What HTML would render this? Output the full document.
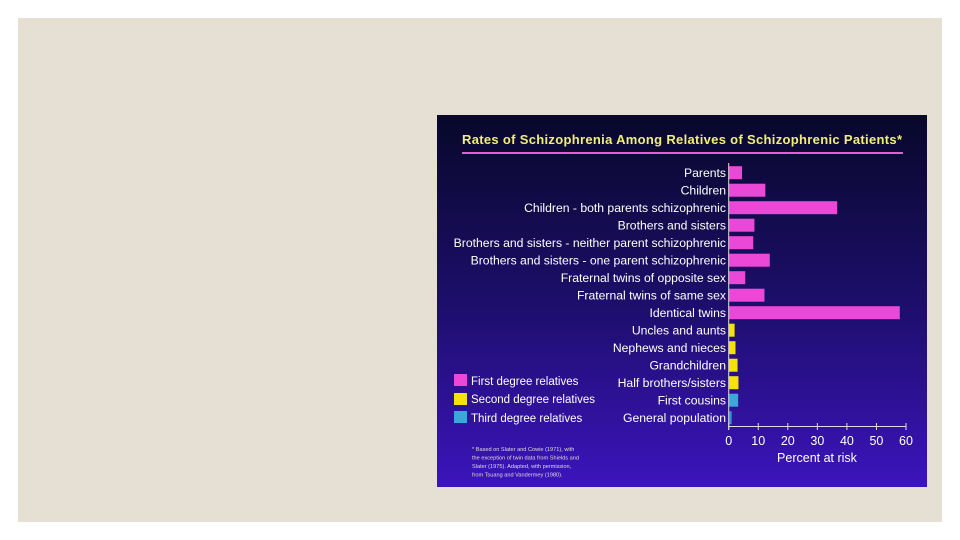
<!DOCTYPE html>
<html><head><meta charset="utf-8"><style>
body{margin:0;width:960px;height:540px;background:#fff;position:relative;overflow:hidden;font-family:"Liberation Sans",sans-serif}
#panel{position:absolute;left:18px;top:18px;width:924px;height:504px;background:#e6dfd4}
#chart{position:absolute;left:437px;top:115px}
</style></head><body>
<div id="panel"></div>
<svg id="chart" width="490" height="372">
<defs><linearGradient id="bg" x1="0" y1="0" x2="0" y2="1"><stop offset="0" stop-color="#08082a"/><stop offset="0.5" stop-color="#1c0e6a"/><stop offset="1" stop-color="#3c14bc"/></linearGradient></defs>
<rect width="490" height="372" fill="url(#bg)"/>
<text x="25" y="29" fill="#f2ee7a" font-size="13" font-weight="bold" textLength="440">Rates of Schizophrenia Among Relatives of Schizophrenic Patients*</text>
<rect x="25" y="37" width="441" height="2" fill="#e060d0"/>
<g id="bars"></g><g id="axis"></g>
<g font-size="11.5" fill="#fff">
<rect x="17" y="259" width="13" height="12" fill="#ec48d8"/>
<text x="34" y="270">First degree relatives</text>
<rect x="17" y="278" width="13" height="12" fill="#f5e20a"/>
<text x="34" y="288">Second degree relatives</text>
<rect x="17" y="296" width="13" height="12" fill="#3aa8d8"/>
<text x="34" y="307">Third degree relatives</text>
</g>
<g font-size="5.6" fill="#ddd">
<text x="35" y="336">* Based on Slater and Cowie (1971), with</text>
<text x="35" y="344.5">the exception of twin data from Shields and</text>
<text x="35" y="353">Slater (1975). Adapted, with permission,</text>
<text x="35" y="361.5">from Tsuang and Vandermey (1980).</text>
</g>
</svg>
<script>
const categories=["Parents","Children","Children - both parents schizophrenic","Brothers and sisters","Brothers and sisters - neither parent schizophrenic","Brothers and sisters - one parent schizophrenic","Fraternal twins of opposite sex","Fraternal twins of same sex","Identical twins","Uncles and aunts","Nephews and nieces","Grandchildren","Half brothers/sisters","First cousins","General population"];
const values=[4.5,12.4,36.7,8.7,8.3,13.9,5.6,12.1,57.9,2.0,2.3,3.0,3.3,3.2,1.0];
const groups=[1,1,1,1,1,1,1,1,1,2,2,2,2,3,3];
const ticks=[0,10,20,30,40,50,60];
const NS="http://www.w3.org/2000/svg";
const colors={1:"#ec48d8",2:"#f5e20a",3:"#3aa8d8"};
const x0=291.7,x60=469;
const xs=v=>x0+(x60-x0)*v/60;
const ys=i=>57.7+i*17.5;
const bars=document.getElementById('bars'),axis=document.getElementById('axis');
function mk(t,a,p){const e=document.createElementNS(NS,t);for(const k in a)e.setAttribute(k,a[k]);p.appendChild(e);return e;}
categories.forEach((c,i)=>{
 const r=mk('rect',{x:x0,y:ys(i)-6.5,width:xs(values[i])-x0,height:13,fill:groups[i]===3&&i===14?"#3a8fd0":colors[groups[i]]},bars);
 
 
 const t=mk('text',{x:289,y:ys(i)+4.5,'text-anchor':'end','font-size':12.2,fill:'#fff'},bars);
 t.textContent=c;
 
 
});
const al=mk('line',{x1:x0,x2:x60,y1:311.5,y2:311.5,stroke:'#ddd','stroke-width':1},axis);


const yl=mk('line',{x1:x0,x2:x0,y1:48,y2:315,stroke:'#ddd','stroke-width':1},axis);


ticks.forEach(t=>{
 const l=mk('line',{x1:xs(t),x2:xs(t),y1:308,y2:315,stroke:'#ddd'},axis);
 
 
 const tx=mk('text',{x:xs(t),y:330,'text-anchor':'middle','font-size':12.5,fill:'#fff'},axis);
 tx.textContent=t;
 
 
});
const tt=mk('text',{x:380,y:347,'text-anchor':'middle','font-size':12.5,fill:'#fff'},axis);
tt.textContent="Percent at risk";


</script>
</body></html>
